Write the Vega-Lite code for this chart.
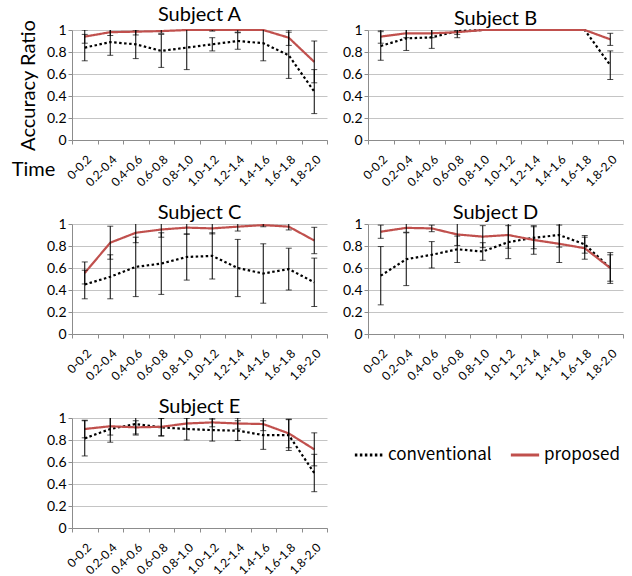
{
  "$schema": "https://vega.github.io/schema/vega-lite/v6.json",
  "padding": {"left": 11, "top": 5, "right": 0, "bottom": 0},
  "spacing": {"row": 14, "column": 14},
  "config": {
    "view": {"stroke": null},
    "font": "Lato",
    "title": {"font": "Lato", "fontSize": 20, "fontWeight": "normal", "offset": -2, "dy": 4, "color": "#000"},
    "axis": {"labelFont": "Lato", "titleFont": "Lato", "labelColor": "#000", "titleColor": "#000", "domainColor": "#8c8c8c", "tickColor": "#8c8c8c", "gridColor": "#c4c4c4", "titleFontWeight": "normal"}
  },
  "datasets": {
    "d": [
      {"subject": "A", "method": "conventional", "time": "0-0.2", "v": 0.84, "e": 0.12},
      {"subject": "A", "method": "conventional", "time": "0.2-0.4", "v": 0.89, "e": 0.12},
      {"subject": "A", "method": "conventional", "time": "0.4-0.6", "v": 0.87, "e": 0.13},
      {"subject": "A", "method": "conventional", "time": "0.6-0.8", "v": 0.81, "e": 0.15},
      {"subject": "A", "method": "conventional", "time": "0.8-1.0", "v": 0.84, "e": 0.2},
      {"subject": "A", "method": "conventional", "time": "1.0-1.2", "v": 0.87, "e": 0.06},
      {"subject": "A", "method": "conventional", "time": "1.2-1.4", "v": 0.9, "e": 0.075},
      {"subject": "A", "method": "conventional", "time": "1.4-1.6", "v": 0.88, "e": 0.16},
      {"subject": "A", "method": "conventional", "time": "1.6-1.8", "v": 0.77, "e": 0.21},
      {"subject": "A", "method": "conventional", "time": "1.8-2.0", "v": 0.44, "e": 0.2},
      {"subject": "A", "method": "proposed", "time": "0-0.2", "v": 0.94, "e": 0.06},
      {"subject": "A", "method": "proposed", "time": "0.2-0.4", "v": 0.98, "e": 0.03},
      {"subject": "A", "method": "proposed", "time": "0.4-0.6", "v": 0.985, "e": 0.03},
      {"subject": "A", "method": "proposed", "time": "0.6-0.8", "v": 0.99, "e": 0.02},
      {"subject": "A", "method": "proposed", "time": "0.8-1.0", "v": 1.0, "e": 0},
      {"subject": "A", "method": "proposed", "time": "1.0-1.2", "v": 1.0, "e": 0.01},
      {"subject": "A", "method": "proposed", "time": "1.2-1.4", "v": 1.0, "e": 0.02},
      {"subject": "A", "method": "proposed", "time": "1.4-1.6", "v": 1.0, "e": 0},
      {"subject": "A", "method": "proposed", "time": "1.6-1.8", "v": 0.93, "e": 0.07},
      {"subject": "A", "method": "proposed", "time": "1.8-2.0", "v": 0.71, "e": 0.19},
      {"subject": "B", "method": "conventional", "time": "0-0.2", "v": 0.855, "e": 0.13},
      {"subject": "B", "method": "conventional", "time": "0.2-0.4", "v": 0.924, "e": 0.11},
      {"subject": "B", "method": "conventional", "time": "0.4-0.6", "v": 0.933, "e": 0.1},
      {"subject": "B", "method": "conventional", "time": "0.6-0.8", "v": 0.99, "e": 0.06},
      {"subject": "B", "method": "conventional", "time": "0.8-1.0", "v": 1.0, "e": 0},
      {"subject": "B", "method": "conventional", "time": "1.0-1.2", "v": 1.0, "e": 0},
      {"subject": "B", "method": "conventional", "time": "1.2-1.4", "v": 1.0, "e": 0},
      {"subject": "B", "method": "conventional", "time": "1.4-1.6", "v": 1.0, "e": 0},
      {"subject": "B", "method": "conventional", "time": "1.6-1.8", "v": 1.0, "e": 0},
      {"subject": "B", "method": "conventional", "time": "1.8-2.0", "v": 0.68, "e": 0.13},
      {"subject": "B", "method": "proposed", "time": "0-0.2", "v": 0.94, "e": 0.06},
      {"subject": "B", "method": "proposed", "time": "0.2-0.4", "v": 0.97, "e": 0.04},
      {"subject": "B", "method": "proposed", "time": "0.4-0.6", "v": 0.97, "e": 0.04},
      {"subject": "B", "method": "proposed", "time": "0.6-0.8", "v": 0.98, "e": 0.02},
      {"subject": "B", "method": "proposed", "time": "0.8-1.0", "v": 1.0, "e": 0},
      {"subject": "B", "method": "proposed", "time": "1.0-1.2", "v": 1.0, "e": 0},
      {"subject": "B", "method": "proposed", "time": "1.2-1.4", "v": 1.0, "e": 0},
      {"subject": "B", "method": "proposed", "time": "1.4-1.6", "v": 1.0, "e": 0},
      {"subject": "B", "method": "proposed", "time": "1.6-1.8", "v": 1.0, "e": 0},
      {"subject": "B", "method": "proposed", "time": "1.8-2.0", "v": 0.915, "e": 0.055},
      {"subject": "C", "method": "conventional", "time": "0-0.2", "v": 0.45, "e": 0.13},
      {"subject": "C", "method": "conventional", "time": "0.2-0.4", "v": 0.52, "e": 0.2},
      {"subject": "C", "method": "conventional", "time": "0.4-0.6", "v": 0.61, "e": 0.27},
      {"subject": "C", "method": "conventional", "time": "0.6-0.8", "v": 0.64, "e": 0.28},
      {"subject": "C", "method": "conventional", "time": "0.8-1.0", "v": 0.7, "e": 0.21},
      {"subject": "C", "method": "conventional", "time": "1.0-1.2", "v": 0.71, "e": 0.21},
      {"subject": "C", "method": "conventional", "time": "1.2-1.4", "v": 0.6, "e": 0.26},
      {"subject": "C", "method": "conventional", "time": "1.4-1.6", "v": 0.55, "e": 0.27},
      {"subject": "C", "method": "conventional", "time": "1.6-1.8", "v": 0.59, "e": 0.19},
      {"subject": "C", "method": "conventional", "time": "1.8-2.0", "v": 0.47, "e": 0.22},
      {"subject": "C", "method": "proposed", "time": "0-0.2", "v": 0.555, "e": 0.1},
      {"subject": "C", "method": "proposed", "time": "0.2-0.4", "v": 0.83, "e": 0.15},
      {"subject": "C", "method": "proposed", "time": "0.4-0.6", "v": 0.92, "e": 0.09},
      {"subject": "C", "method": "proposed", "time": "0.6-0.8", "v": 0.95, "e": 0.07},
      {"subject": "C", "method": "proposed", "time": "0.8-1.0", "v": 0.967, "e": 0.06},
      {"subject": "C", "method": "proposed", "time": "1.0-1.2", "v": 0.96, "e": 0.05},
      {"subject": "C", "method": "proposed", "time": "1.2-1.4", "v": 0.976, "e": 0.04},
      {"subject": "C", "method": "proposed", "time": "1.4-1.6", "v": 0.99, "e": 0.015},
      {"subject": "C", "method": "proposed", "time": "1.6-1.8", "v": 0.976, "e": 0.03},
      {"subject": "C", "method": "proposed", "time": "1.8-2.0", "v": 0.85, "e": 0.12},
      {"subject": "D", "method": "conventional", "time": "0-0.2", "v": 0.53, "e": 0.265},
      {"subject": "D", "method": "conventional", "time": "0.2-0.4", "v": 0.68, "e": 0.24},
      {"subject": "D", "method": "conventional", "time": "0.4-0.6", "v": 0.72, "e": 0.12},
      {"subject": "D", "method": "conventional", "time": "0.6-0.8", "v": 0.77, "e": 0.12},
      {"subject": "D", "method": "conventional", "time": "0.8-1.0", "v": 0.75, "e": 0.08},
      {"subject": "D", "method": "conventional", "time": "1.0-1.2", "v": 0.835, "e": 0.15},
      {"subject": "D", "method": "conventional", "time": "1.2-1.4", "v": 0.875, "e": 0.1},
      {"subject": "D", "method": "conventional", "time": "1.4-1.6", "v": 0.9, "e": 0.11},
      {"subject": "D", "method": "conventional", "time": "1.6-1.8", "v": 0.815, "e": 0.08},
      {"subject": "D", "method": "conventional", "time": "1.8-2.0", "v": 0.6, "e": 0.14},
      {"subject": "D", "method": "proposed", "time": "0-0.2", "v": 0.93, "e": 0.06},
      {"subject": "D", "method": "proposed", "time": "0.2-0.4", "v": 0.965, "e": 0.04},
      {"subject": "D", "method": "proposed", "time": "0.4-0.6", "v": 0.96, "e": 0.03},
      {"subject": "D", "method": "proposed", "time": "0.6-0.8", "v": 0.905, "e": 0.1},
      {"subject": "D", "method": "proposed", "time": "0.8-1.0", "v": 0.885, "e": 0.1},
      {"subject": "D", "method": "proposed", "time": "1.0-1.2", "v": 0.9, "e": 0.12},
      {"subject": "D", "method": "proposed", "time": "1.2-1.4", "v": 0.855, "e": 0.13},
      {"subject": "D", "method": "proposed", "time": "1.4-1.6", "v": 0.82, "e": 0.17},
      {"subject": "D", "method": "proposed", "time": "1.6-1.8", "v": 0.78, "e": 0.1},
      {"subject": "D", "method": "proposed", "time": "1.8-2.0", "v": 0.6, "e": 0.12},
      {"subject": "E", "method": "conventional", "time": "0-0.2", "v": 0.815, "e": 0.16},
      {"subject": "E", "method": "conventional", "time": "0.2-0.4", "v": 0.9, "e": 0.12},
      {"subject": "E", "method": "conventional", "time": "0.4-0.6", "v": 0.945, "e": 0.1},
      {"subject": "E", "method": "conventional", "time": "0.6-0.8", "v": 0.915, "e": 0.08},
      {"subject": "E", "method": "conventional", "time": "0.8-1.0", "v": 0.9, "e": 0.1},
      {"subject": "E", "method": "conventional", "time": "1.0-1.2", "v": 0.89, "e": 0.1},
      {"subject": "E", "method": "conventional", "time": "1.2-1.4", "v": 0.885, "e": 0.09},
      {"subject": "E", "method": "conventional", "time": "1.4-1.6", "v": 0.845, "e": 0.13},
      {"subject": "E", "method": "conventional", "time": "1.6-1.8", "v": 0.845, "e": 0.14},
      {"subject": "E", "method": "conventional", "time": "1.8-2.0", "v": 0.5, "e": 0.17},
      {"subject": "E", "method": "proposed", "time": "0-0.2", "v": 0.9, "e": 0.08},
      {"subject": "E", "method": "proposed", "time": "0.2-0.4", "v": 0.925, "e": 0.08},
      {"subject": "E", "method": "proposed", "time": "0.4-0.6", "v": 0.915, "e": 0.06},
      {"subject": "E", "method": "proposed", "time": "0.6-0.8", "v": 0.92, "e": 0.08},
      {"subject": "E", "method": "proposed", "time": "0.8-1.0", "v": 0.95, "e": 0.05},
      {"subject": "E", "method": "proposed", "time": "1.0-1.2", "v": 0.96, "e": 0.04},
      {"subject": "E", "method": "proposed", "time": "1.2-1.4", "v": 0.95, "e": 0.05},
      {"subject": "E", "method": "proposed", "time": "1.4-1.6", "v": 0.945, "e": 0.06},
      {"subject": "E", "method": "proposed", "time": "1.6-1.8", "v": 0.86, "e": 0.13},
      {"subject": "E", "method": "proposed", "time": "1.8-2.0", "v": 0.715, "e": 0.15}
    ]
  },
  "columns": 2,
  "concat": [
    {
      "title": "Subject A",
      "width": 255, "height": 110,
      "data": {"name": "d"},
      "transform": [{"filter": "datum.subject === 'A'"}],
      "encoding": {
        "x": {"field": "time", "type": "nominal", "sort": null, "scale": {"type": "band", "paddingInner": 0, "paddingOuter": 0},
              "axis": {"title": "Time", "titleFontSize": 20, "titleX": -39, "titleY": 29, "titleAlign": "center", "titleBaseline": "middle", "labelAngle": -45, "labelFontSize": 12, "labelAlign": "right", "labelBaseline": "middle", "tickBand": "extent", "tickSize": 4, "labelPadding": 13, "labelOffset": 4}},
        "y": {"field": "v", "type": "quantitative", "scale": {"domain": [0, 1]},
              "axis": {"title": "Accuracy Ratio", "titleFontSize": 20, "values": [0, 0.2, 0.4, 0.6, 0.8, 1], "format": "~g", "labelFontSize": 14, "tickSize": 4, "titlePadding": 8}}
      },
      "layer": [
        {"mark": {"type": "line", "strokeWidth": 2.2},
         "encoding": {
           "color": {"field": "method", "type": "nominal", "scale": {"domain": ["conventional", "proposed"], "range": ["#000000", "#C0504D"]},
                     "legend": {"title": null, "orient": "none", "legendX": 281, "legendY": 409, "direction": "horizontal", "symbolType": "stroke", "symbolSize": 800, "symbolStrokeWidth": 3, "labelFont": "Noto Sans CJK JP", "labelFontSize": 17, "labelColor": "#000", "labelOffset": 3, "columnPadding": 12,
                                "encode": {"symbols": {"update": {"stroke": {"value": {"expr": "datum.value === 'proposed' ? '#808080' : '#000000'"}}}}}}},
           "strokeDash": {"field": "method", "type": "nominal", "scale": {"domain": ["conventional", "proposed"], "range": [[2.5, 2.5], [1, 0]]}}
         }},
        {"transform": [{"filter": "datum.e > 0"}],
         "mark": {"type": "errorbar", "ticks": {"size": 6, "color": "#000"}, "color": "#000", "clip": true},
         "encoding": {"yError": {"field": "e"}}}
      ]
    },
    {
      "title": "Subject B",
      "width": 255, "height": 110,
      "data": {"name": "d"},
      "transform": [{"filter": "datum.subject === 'B'"}],
      "encoding": {
        "x": {"field": "time", "type": "nominal", "sort": null, "scale": {"type": "band", "paddingInner": 0, "paddingOuter": 0},
              "axis": {"title": null, "labelAngle": -45, "labelFontSize": 12, "labelAlign": "right", "labelBaseline": "middle", "tickBand": "extent", "tickSize": 4, "labelPadding": 13, "labelOffset": 4}},
        "y": {"field": "v", "type": "quantitative", "scale": {"domain": [0, 1]},
              "axis": {"title": null, "values": [0, 0.2, 0.4, 0.6, 0.8, 1], "format": "~g", "labelFontSize": 14, "tickSize": 4}}
      },
      "layer": [
        {"mark": {"type": "line", "strokeWidth": 2.2},
         "encoding": {
           "color": {"field": "method", "type": "nominal", "scale": {"domain": ["conventional", "proposed"], "range": ["#000000", "#C0504D"]}},
           "strokeDash": {"field": "method", "type": "nominal", "scale": {"domain": ["conventional", "proposed"], "range": [[2.5, 2.5], [1, 0]]}}
         }},
        {"transform": [{"filter": "datum.e > 0"}],
         "mark": {"type": "errorbar", "ticks": {"size": 6, "color": "#000"}, "color": "#000", "clip": true},
         "encoding": {"yError": {"field": "e"}}}
      ]
    },
    {
      "title": "Subject C",
      "width": 255, "height": 110,
      "data": {"name": "d"},
      "transform": [{"filter": "datum.subject === 'C'"}],
      "encoding": {
        "x": {"field": "time", "type": "nominal", "sort": null, "scale": {"type": "band", "paddingInner": 0, "paddingOuter": 0},
              "axis": {"title": null, "labelAngle": -45, "labelFontSize": 12, "labelAlign": "right", "labelBaseline": "middle", "tickBand": "extent", "tickSize": 4, "labelPadding": 13, "labelOffset": 4}},
        "y": {"field": "v", "type": "quantitative", "scale": {"domain": [0, 1]},
              "axis": {"title": null, "values": [0, 0.2, 0.4, 0.6, 0.8, 1], "format": "~g", "labelFontSize": 14, "tickSize": 4}}
      },
      "layer": [
        {"mark": {"type": "line", "strokeWidth": 2.2},
         "encoding": {
           "color": {"field": "method", "type": "nominal", "scale": {"domain": ["conventional", "proposed"], "range": ["#000000", "#C0504D"]}},
           "strokeDash": {"field": "method", "type": "nominal", "scale": {"domain": ["conventional", "proposed"], "range": [[2.5, 2.5], [1, 0]]}}
         }},
        {"transform": [{"filter": "datum.e > 0"}],
         "mark": {"type": "errorbar", "ticks": {"size": 6, "color": "#000"}, "color": "#000", "clip": true},
         "encoding": {"yError": {"field": "e"}}}
      ]
    },
    {
      "title": "Subject D",
      "width": 255, "height": 110,
      "data": {"name": "d"},
      "transform": [{"filter": "datum.subject === 'D'"}],
      "encoding": {
        "x": {"field": "time", "type": "nominal", "sort": null, "scale": {"type": "band", "paddingInner": 0, "paddingOuter": 0},
              "axis": {"title": null, "labelAngle": -45, "labelFontSize": 12, "labelAlign": "right", "labelBaseline": "middle", "tickBand": "extent", "tickSize": 4, "labelPadding": 13, "labelOffset": 4}},
        "y": {"field": "v", "type": "quantitative", "scale": {"domain": [0, 1]},
              "axis": {"title": null, "values": [0, 0.2, 0.4, 0.6, 0.8, 1], "format": "~g", "labelFontSize": 14, "tickSize": 4}}
      },
      "layer": [
        {"mark": {"type": "line", "strokeWidth": 2.2},
         "encoding": {
           "color": {"field": "method", "type": "nominal", "scale": {"domain": ["conventional", "proposed"], "range": ["#000000", "#C0504D"]}},
           "strokeDash": {"field": "method", "type": "nominal", "scale": {"domain": ["conventional", "proposed"], "range": [[2.5, 2.5], [1, 0]]}}
         }},
        {"transform": [{"filter": "datum.e > 0"}],
         "mark": {"type": "errorbar", "ticks": {"size": 6, "color": "#000"}, "color": "#000", "clip": true},
         "encoding": {"yError": {"field": "e"}}}
      ]
    },
    {
      "title": "Subject E",
      "width": 255, "height": 110,
      "data": {"name": "d"},
      "transform": [{"filter": "datum.subject === 'E'"}],
      "encoding": {
        "x": {"field": "time", "type": "nominal", "sort": null, "scale": {"type": "band", "paddingInner": 0, "paddingOuter": 0},
              "axis": {"title": null, "labelAngle": -45, "labelFontSize": 12, "labelAlign": "right", "labelBaseline": "middle", "tickBand": "extent", "tickSize": 4, "labelPadding": 13, "labelOffset": 4}},
        "y": {"field": "v", "type": "quantitative", "scale": {"domain": [0, 1]},
              "axis": {"title": null, "values": [0, 0.2, 0.4, 0.6, 0.8, 1], "format": "~g", "labelFontSize": 14, "tickSize": 4}}
      },
      "layer": [
        {"mark": {"type": "line", "strokeWidth": 2.2},
         "encoding": {
           "color": {"field": "method", "type": "nominal", "scale": {"domain": ["conventional", "proposed"], "range": ["#000000", "#C0504D"]}},
           "strokeDash": {"field": "method", "type": "nominal", "scale": {"domain": ["conventional", "proposed"], "range": [[2.5, 2.5], [1, 0]]}}
         }},
        {"transform": [{"filter": "datum.e > 0"}],
         "mark": {"type": "errorbar", "ticks": {"size": 6, "color": "#000"}, "color": "#000", "clip": true},
         "encoding": {"yError": {"field": "e"}}}
      ]
    }
  ]
}
